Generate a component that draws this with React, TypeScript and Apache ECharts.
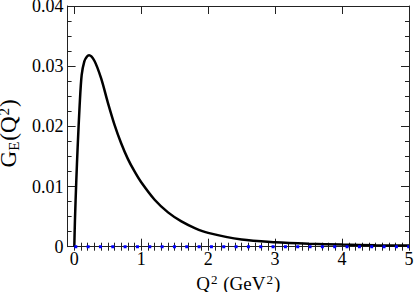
import React, { useEffect, useRef } from "react";
import * as echarts from "echarts";

const qSquared = [0, 0.01, 0.03, 0.05, 0.08, 0.11, 0.15, 0.19, 0.22, 0.3, 0.4, 0.5, 0.6, 0.7, 0.8, 0.9, 1.0, 1.2, 1.4, 1.6, 1.8, 2.0, 2.5, 3.0, 3.5, 4.0, 4.5, 5.0];
const geValues = [0, 0.0045, 0.011, 0.0165, 0.0235, 0.0285, 0.0308, 0.0316, 0.0318, 0.0309, 0.028, 0.024, 0.0203, 0.0172, 0.0146, 0.0125, 0.0107, 0.0078, 0.0057, 0.0042, 0.0031, 0.0023, 0.0012, 0.00075, 0.0005, 0.00035, 0.00025, 0.00018];
const blueQ = [0, 5];
const blueValues = [0, 0];

const majorX = [0, 1, 2, 3, 4, 5];
const minorX = [0, 0.1, 0.2, 0.3, 0.4, 0.5, 0.6, 0.7, 0.8, 0.9, 1, 1.1, 1.2, 1.3, 1.4, 1.5, 1.6, 1.7, 1.8, 1.9, 2, 2.1, 2.2, 2.3, 2.4, 2.5, 2.6, 2.7, 2.8, 2.9, 3, 3.1, 3.2, 3.3, 3.4, 3.5, 3.6, 3.7, 3.8, 3.9, 4, 4.1, 4.2, 4.3, 4.4, 4.5, 4.6, 4.7, 4.8, 4.9, 5];

const FONT = "Liberation Serif";
const FRAME = "#222";

export default function App() {
  const ref = useRef<HTMLDivElement>(null);
  useEffect(() => {
    document.body.style.margin = "0";
    if (!ref.current) return;
    const chart = echarts.init(ref.current, undefined, { renderer: "svg" });
    const richX = {
      n: { fontSize: 19, lineHeight: 19, fontFamily: FONT, color: "#000" },
      sup: { fontSize: 13, lineHeight: 13, fontFamily: FONT, color: "#000", padding: [0, 1, 9, 1] },
    };
    const richY = {
      n: { fontSize: 23, lineHeight: 20, fontFamily: FONT, color: "#000" },
      sup: { fontSize: 15, lineHeight: 13, fontFamily: FONT, color: "#000", padding: [0, 1, 10, 1] },
      sub: { fontSize: 15, lineHeight: 13, fontFamily: FONT, color: "#000", padding: [10, 1, 0, 0] },
    };
    const xCommon = { type: "value", min: -0.1, max: 5, splitLine: { show: false } };
    const yCommon = { type: "value", min: 0, max: 0.04, interval: 0.01, splitLine: { show: false } };
    chart.setOption({
      animation: false,
      backgroundColor: "#fff",
      grid: { left: 67.6, right: 6, top: 6, bottom: 45.3, containLabel: false, outerBoundsMode: "none" },
      xAxis: [
        {
          ...xCommon,
          position: "bottom",
          axisLine: { show: true, onZero: false, lineStyle: { color: FRAME, width: 1 } },
          axisTick: { show: true, inside: true, length: 8, customValues: majorX, lineStyle: { color: FRAME } },
          axisLabel: { customValues: majorX, fontSize: 18, lineHeight: 16, fontFamily: FONT, color: "#000", margin: 4 },
          name: "{n|Q}{sup|2}{n| (GeV}{sup|2}{n|)}",
          nameLocation: "middle",
          nameGap: 24,
          nameTextStyle: { rich: richX },
        },
        {
          ...xCommon,
          position: "bottom",
          axisLine: { show: false },
          axisTick: { show: true, inside: true, length: 4, customValues: minorX, lineStyle: { color: FRAME } },
          axisLabel: { show: false },
        },
        {
          ...xCommon,
          position: "top",
          axisLine: { show: true, onZero: false, lineStyle: { color: FRAME, width: 1 } },
          axisTick: { show: true, inside: true, length: 8, customValues: majorX, lineStyle: { color: FRAME } },
          axisLabel: { show: false },
        },
        {
          ...xCommon,
          position: "top",
          axisLine: { show: false },
          axisTick: { show: true, inside: true, length: 4, customValues: minorX, lineStyle: { color: FRAME } },
          axisLabel: { show: false },
        },
      ],
      yAxis: [
        {
          ...yCommon,
          position: "left",
          axisLine: { show: true, onZero: false, lineStyle: { color: FRAME, width: 1 } },
          axisTick: { show: true, inside: true, length: 8, lineStyle: { color: FRAME } },
          minorTick: { show: true, splitNumber: 4, length: 4, lineStyle: { color: FRAME } },
          minorSplitLine: { show: false },
          axisLabel: { fontSize: 18, lineHeight: 14, fontFamily: FONT, color: "#000", margin: 4 },
          name: "{n|G}{sub|E}{n|(Q}{sup|2}{n|)}",
          nameLocation: "middle",
          nameRotate: 90,
          nameGap: 29,
          nameTextStyle: { rich: richY, padding: [0, 14, 0, 0] },
        },
        {
          ...yCommon,
          position: "right",
          axisLine: { show: true, onZero: false, lineStyle: { color: FRAME, width: 1 } },
          axisTick: { show: true, inside: true, length: 8, lineStyle: { color: FRAME } },
          minorTick: { show: true, splitNumber: 4, length: 4, lineStyle: { color: FRAME } },
          minorSplitLine: { show: false },
          axisLabel: { show: false },
        },
      ],
      series: [
        {
          type: "line",
          xAxisIndex: 0,
          yAxisIndex: 0,
          data: qSquared.map((q, i) => [q, geValues[i]]),
          smooth: 0.3,
          showSymbol: false,
          symbol: "none",
          lineStyle: { color: "#000", width: 2.5 },
          clip: false,
          z: 3,
        },
        {
          type: "line",
          xAxisIndex: 0,
          yAxisIndex: 0,
          data: blueQ.map((q, i) => [q, blueValues[i]]),
          showSymbol: false,
          symbol: "none",
          lineStyle: { color: "#0000ff", width: 3, type: [3, 9.33], cap: "butt" },
          clip: false,
          z: 4,
        },
      ],
    });
    return () => chart.dispose();
  }, []);
  return <div ref={ref} style={{ width: 415, height: 292 }} />;
}
